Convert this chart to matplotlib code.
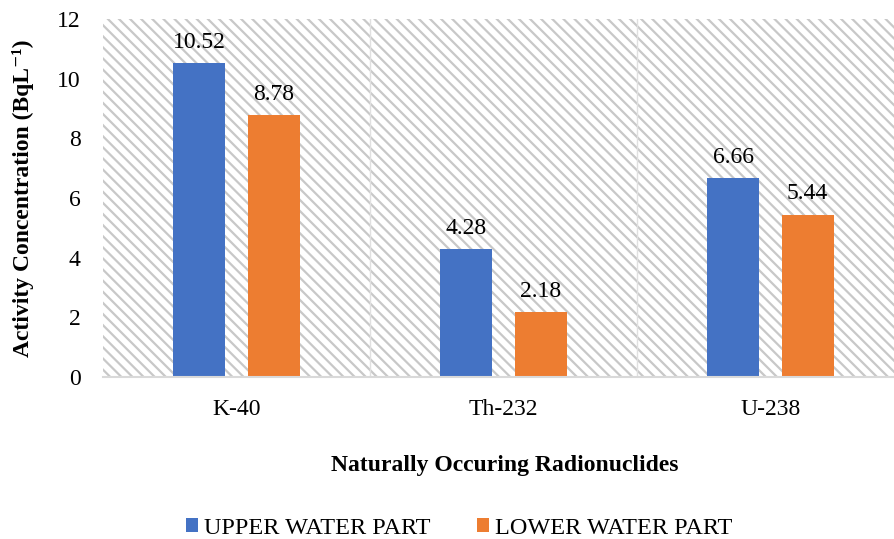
import matplotlib.pyplot as plt
import numpy as np
from matplotlib.patches import Rectangle

plt.rcParams['font.family'] = ['Liberation Serif', 'DejaVu Serif']
plt.rcParams['hatch.linewidth'] = 1.6
plt.rcParams['hatch.color'] = '#c8c8c8'

nuclidi = ['K-40', 'Th-232', 'U-238']
sopra = [10.52, 4.28, 6.66]
sotto = [8.78, 2.18, 5.44]

blu = '#4472C4'
arancio = '#ED7D31'

fig = plt.figure(figsize=(8.95, 5.39), dpi=100)
ax = fig.add_axes([0.115, 0.3006, 0.895, 0.6641])

# sfondo a righe
sfondo = Rectangle((0, 0), 1, 1, transform=ax.transAxes, facecolor='white',
                   edgecolor='#c8c8c8', hatch='\\\\\\', linewidth=0, zorder=0)
ax.add_patch(sfondo)

x = np.arange(len(nuclidi))
w = 0.195
off = 0.139

b1 = ax.bar(x - off, sopra, w, color=blu, label='UPPER WATER PART', zorder=3)
b2 = ax.bar(x + off, sotto, w, color=arancio, label='LOWER WATER PART', zorder=3)

for b, v in zip(b1, sopra):
    ax.text(b.get_x() + b.get_width() / 2, v + 0.35, '%.2f' % v, ha='center',
            va='bottom', fontsize=17)
for b, v in zip(b2, sotto):
    ax.text(b.get_x() + b.get_width() / 2, v + 0.35, '%.2f' % v, ha='center',
            va='bottom', fontsize=17)

# separatori tra categorie
for s in [0.5, 1.5]:
    ax.axvline(s, color='#e0e0e0', linewidth=1, zorder=1)

ax.set_xlim(-0.5, 2.5)
ax.set_ylim(0, 12)
ax.set_yticks(np.arange(0, 13, 2))
ax.set_xticks(x)
ax.set_xticklabels(nuclidi)
ax.tick_params(axis='both', length=0, labelsize=17)
ax.tick_params(axis='y', pad=16)
ax.tick_params(axis='x', pad=16)

for lato in ['top', 'right', 'left']:
    ax.spines[lato].set_visible(False)
ax.spines['bottom'].set_color('#d9d9d9')
ax.spines['bottom'].set_linewidth(1.5)
ax.spines['bottom'].set_zorder(4)

ax.set_ylabel('Activity Concentration (BqL⁻¹)', fontsize=17,
              fontweight='bold')
ax.yaxis.set_label_coords(-0.086, 0.5)
ax.set_xlabel('Naturally Occuring Radionuclides', fontsize=17,
              fontweight='bold')
ax.xaxis.set_label_coords(0.502, -0.218)

fig.legend(handles=[b1, b2], loc='center', bbox_to_anchor=(0.513, 0.02),
           ncol=2, frameon=False, fontsize=17.5, handlelength=0.5,
           handleheight=0.5, handletextpad=0.25, columnspacing=1.9,
           borderpad=0)

plt.savefig('out.png', dpi=100)
